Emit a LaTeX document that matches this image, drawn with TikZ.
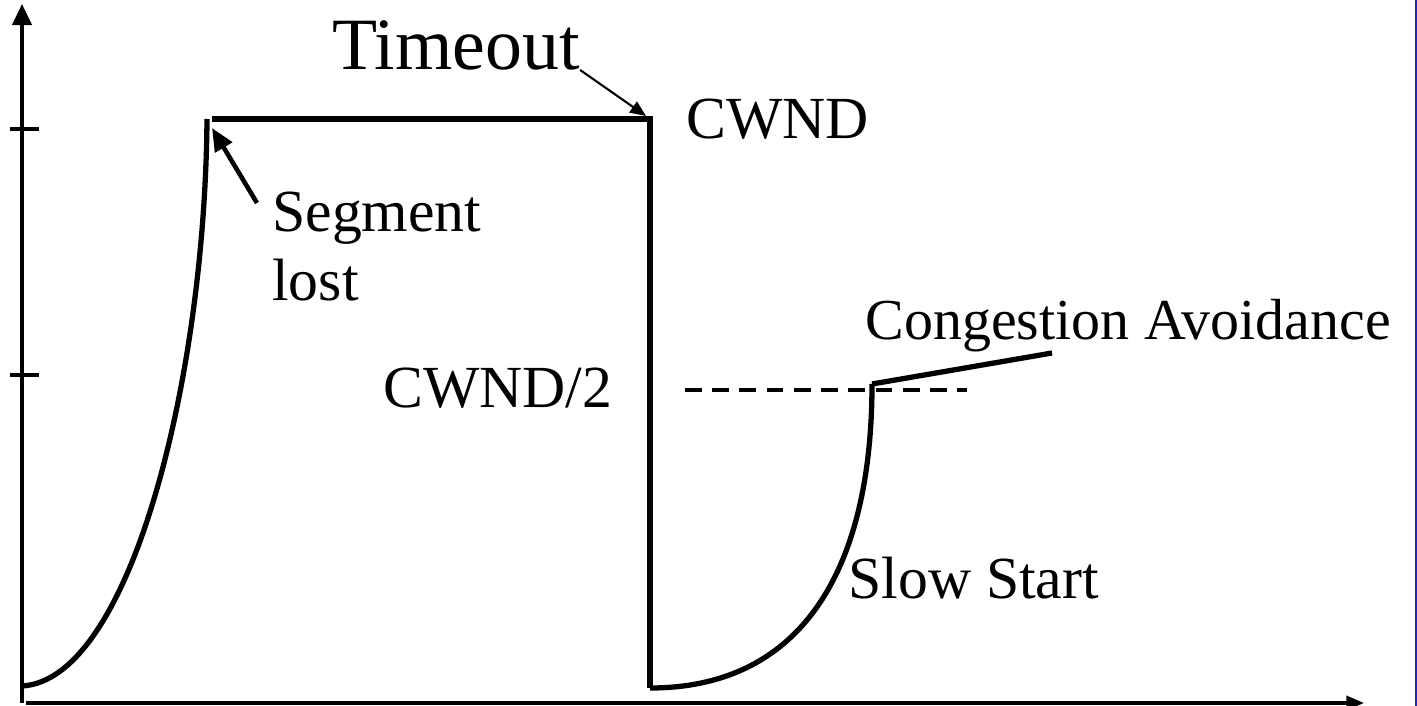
\documentclass[tikz,border=0pt]{standalone}
\usepackage{fontspec}
\setmainfont{Liberation Serif}
\usetikzlibrary{arrows.meta}
\definecolor{edgeblue}{RGB}{10,40,255}

\begin{document}
\begin{tikzpicture}[x=0.02cm,y=-0.02cm,
    lbl/.style={anchor=base west,inner sep=0pt,font=\fontsize{34}{41}\selectfont},
    axis/.style={line width=1.9pt},
    cwnd/.style={line width=3pt},
    pointer/.style={line width=2.6pt,-{Triangle[length=13pt,width=11pt]}}]
  \useasboundingbox (0,0) rectangle (1417,706);
  %axes
  \coordinate (ytop) at (22,4);
  \coordinate (xend) at (1364,703);
  \draw[axis,-{Triangle[length=12pt,width=11pt]}] (22,703) -- (ytop);
  \draw[axis,-{Triangle[length=10pt,width=8pt]}] (26,703) -- (xend);
  \draw[axis] (10,129) -- (39,129);
  \draw[axis] (10,375) -- (39,375);
  %window
  \coordinate (lossPt) at (207,119);
  \coordinate (dropPt) at (650,119);
  \coordinate (lowPt) at (650,688);
  \coordinate (halfPt) at (872,384);
  \draw[cwnd] (22,686) .. controls (130,680) and (205,380) .. (lossPt);
  \draw[cwnd] (212,119) -- (dropPt) -- (lowPt);
  \draw[cwnd] (lowPt) .. controls (805,688) and (872,565) .. (halfPt);
  \draw[cwnd] (halfPt) -- (1052,353);
  \draw[line width=2pt,dash pattern=on 9.5pt off 6pt] (685,390) -- (967,390);
  %labels
  \node[lbl,font=\fontsize{42}{50}\selectfont] (timeout) at (332,70) {Timeout};
  \node[lbl] (cwndTop) at (686,138) {CWND};
  \node[lbl] (seg) at (272,231) {Segment};
  \node[lbl] (lost) at (272,300) {lost};
  \node[lbl] (cwndHalf) at (383,407) {CWND/2};
  \node[lbl,font=\fontsize{33}{40}\selectfont] (ca) at (865,339) {Congestion Avoidance};
  \node[lbl] (ss) at (848,598) {Slow Start};
  %pointers
  \coordinate (lossTail) at (257,203);
  \coordinate (lossTip) at (212,128);
  \coordinate (dropTip) at (646,116);
  \draw[pointer] (lossTail) -- (lossTip);
  \draw[line width=1.2pt,-{Triangle[length=9pt,width=7.5pt]}] (timeout.base east) -- (dropTip);
  %edge
  \draw[edgeblue,line width=0.7pt] (1416,0) -- (1416,706);
\end{tikzpicture}
\end{document}
